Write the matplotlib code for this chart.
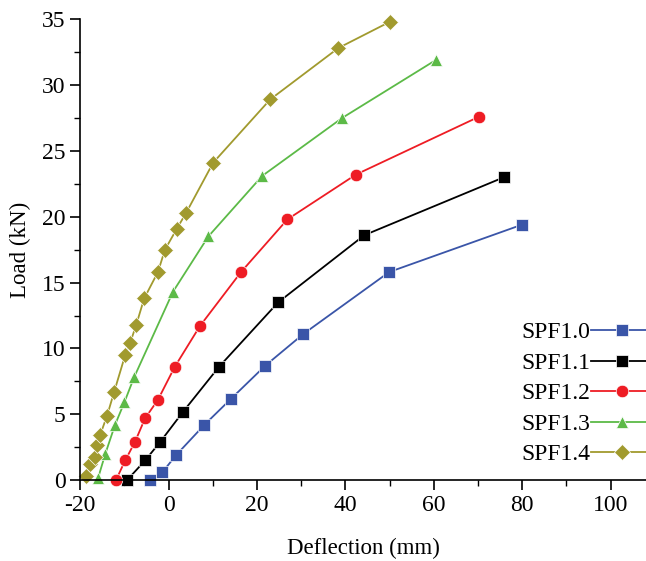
import numpy as np
import matplotlib.pyplot as plt
from matplotlib.ticker import MultipleLocator

plt.rcParams['font.family'] = ['Liberation Serif', 'DejaVu Serif']
plt.rcParams['axes.unicode_minus'] = False

# DATA (deflection mm, load kN)
labels = ['SPF1.0', 'SPF1.1', 'SPF1.2', 'SPF1.3', 'SPF1.4']

x_10 = [-4.2, -1.4, 1.7, 8.1, 14.2, 21.9, 30.5, 49.9, 80.0]
y_10 = [0.0, 0.6, 1.9, 4.2, 6.2, 8.7, 11.1, 15.8, 19.4]

x_11 = [-9.4, -5.3, -1.9, 3.3, 11.4, 24.8, 44.3, 75.9]
y_11 = [0.0, 1.5, 2.9, 5.2, 8.6, 13.5, 18.6, 23.0]

x_12 = [-11.9, -9.8, -7.6, -5.3, -2.4, 1.4, 7.1, 16.4, 26.9, 42.4, 70.3]
y_12 = [0.0, 1.5, 2.9, 4.7, 6.1, 8.6, 11.7, 15.8, 19.8, 23.2, 27.6]

x_13 = [-15.9, -14.3, -12.1, -10.0, -7.8, 1.0, 9.0, 21.2, 39.3, 60.5]
y_13 = [0.2, 2.0, 4.2, 5.9, 7.8, 14.3, 18.5, 23.1, 27.5, 31.9]

x_14 = [-18.6, -17.7, -16.6, -16.2, -15.5, -13.9, -12.3, -9.8, -8.7, -7.3,
        -5.5, -2.4, -0.8, 1.9, 4.0, 10.1, 23.0, 38.4, 50.1]
y_14 = [0.3, 1.2, 1.8, 2.7, 3.4, 4.9, 6.7, 9.5, 10.4, 11.8,
        13.8, 15.8, 17.5, 19.1, 20.3, 24.1, 28.9, 32.8, 34.8]

xs = [x_10, x_11, x_12, x_13, x_14]
ys = [y_10, y_11, y_12, y_13, y_14]
colors = ['#3a55a8', '#000000', '#ee1c24', '#5cba47', '#a19a2e']
markers = ['s', 's', 'o', '^', 'D']
msizes = [8, 8, 9, 9, 8]

fig = plt.figure(figsize=(6.46, 5.61), dpi=100)
ax = fig.add_axes([0.124, 0.144, 0.876, 0.822])

for x, y, lab, c, m, ms in zip(xs, ys, labels, colors, markers, msizes):
    ax.plot(x, y, color=c, marker=m, markersize=ms, lw=1.3, label=lab,
            markeredgecolor='white', markeredgewidth=0.5, clip_on=False)

ax.set_xlim(-20, 108)
ax.set_ylim(0, 35)
ax.xaxis.set_major_locator(MultipleLocator(20))
ax.xaxis.set_minor_locator(MultipleLocator(10))
ax.yaxis.set_major_locator(MultipleLocator(5))
ax.yaxis.set_minor_locator(MultipleLocator(2.5))
ax.tick_params(which='major', direction='out', length=7, width=1.2, labelsize=17)
ax.tick_params(which='minor', direction='out', length=4, width=1.0)
ax.spines['top'].set_visible(False)
ax.spines['right'].set_visible(False)
ax.spines['left'].set_linewidth(1.2)
ax.spines['bottom'].set_linewidth(1.2)

ax.set_xlabel('Deflection (mm)', fontsize=16.5, labelpad=16)
ax.set_ylabel('Load (kN)', fontsize=16.5, labelpad=8)

ax.legend(loc='center left', bbox_to_anchor=(0.78, 0.188), frameon=False,
          markerfirst=False, fontsize=17, handlelength=2.7, handletextpad=0.0,
          labelspacing=0.38, borderaxespad=0, borderpad=0)

fig.savefig('out.png', dpi=100)
